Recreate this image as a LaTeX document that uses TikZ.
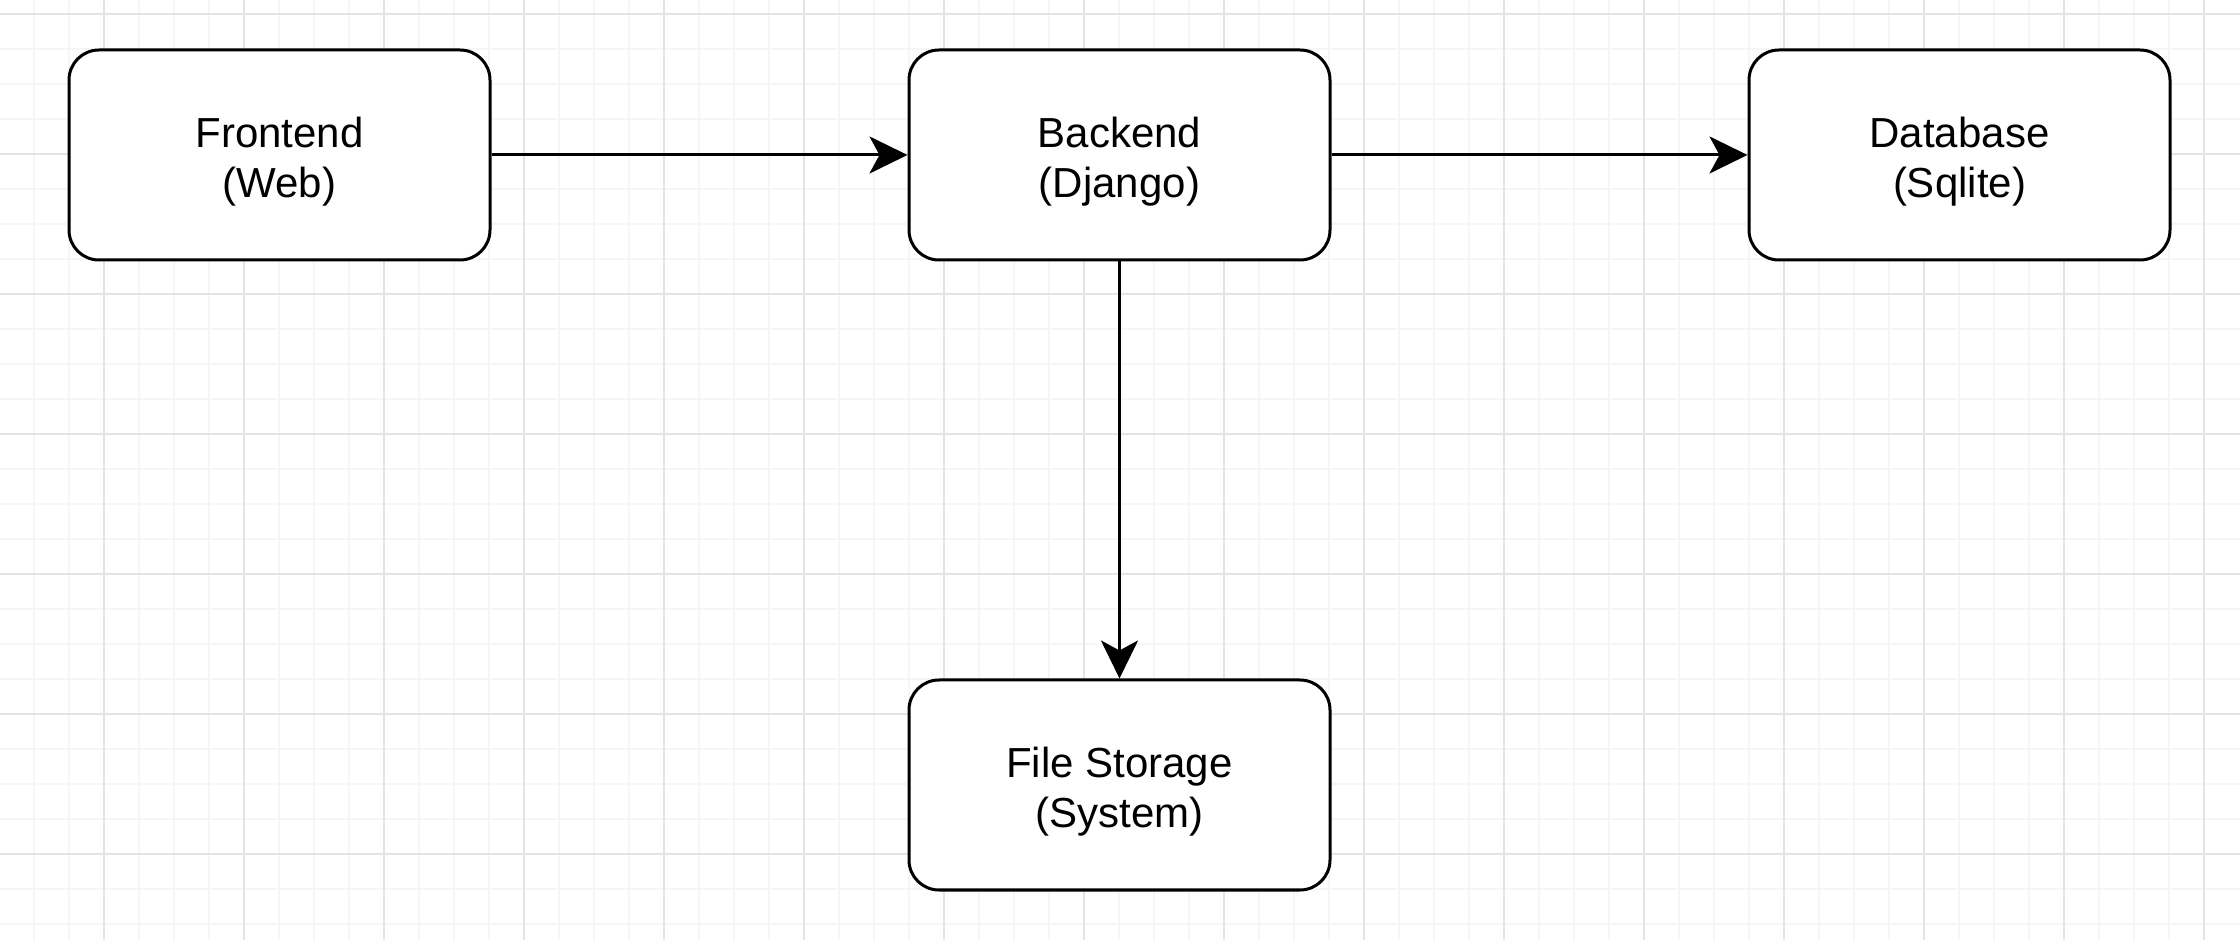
\documentclass[tikz,border=0pt]{standalone}
\usepackage{fontspec}
\setmainfont{Liberation Sans}
\usetikzlibrary{arrows.meta}
\begin{document}
\begin{tikzpicture}[x=0.5pt,y=-0.5pt,
  box/.style={draw=black,line width=1.5pt,rounded corners=15pt,fill=white,
    minimum width=210.5pt,minimum height=105pt,align=center,inner sep=0pt,
    text height=47pt,
    font=\fontsize{21pt}{25pt}\selectfont},
  conn/.style={line width=1.5pt,-{Stealth[length=19pt,width=18.5pt,inset=5pt]}},
  minorgrid/.style={draw={rgb,255:red,246;green,246;blue,246},line width=0.6pt},
  majorgrid/.style={draw={rgb,255:red,228;green,228;blue,228},line width=0.8pt}]
\useasboundingbox (0,0) rectangle (2240,940);
\fill[white] (0,0) rectangle (2240,940);
% minor grid
\foreach \i in {0,...,64} {
  \draw[minorgrid] ({104-140+35*\i},0) -- ({104-140+35*\i},940);
}
\foreach \j in {0,...,27} {
  \draw[minorgrid] (0,{14+35*\j}) -- (2240,{14+35*\j});
}
% major grid
\foreach \i in {0,...,15} {
  \draw[majorgrid] ({104+140*\i},0) -- ({104+140*\i},940);
}
\foreach \j in {0,...,6} {
  \draw[majorgrid] (0,{14+140*\j}) -- (2240,{14+140*\j});
}
\node[box] (front) at (279.5,155) {Frontend\\(Web)};
\node[box] (back) at (1119.5,155) {Backend\\(Django)};
\node[box] (db) at (1959.5,155) {Database\\(Sqlite)};
\node[box] (fs) at (1119.5,785) {File Storage\\(System)};
\draw[conn] (front) -- (back);
\draw[conn] (back) -- (db);
\draw[conn] (back) -- (fs);
\end{tikzpicture}
\end{document}
